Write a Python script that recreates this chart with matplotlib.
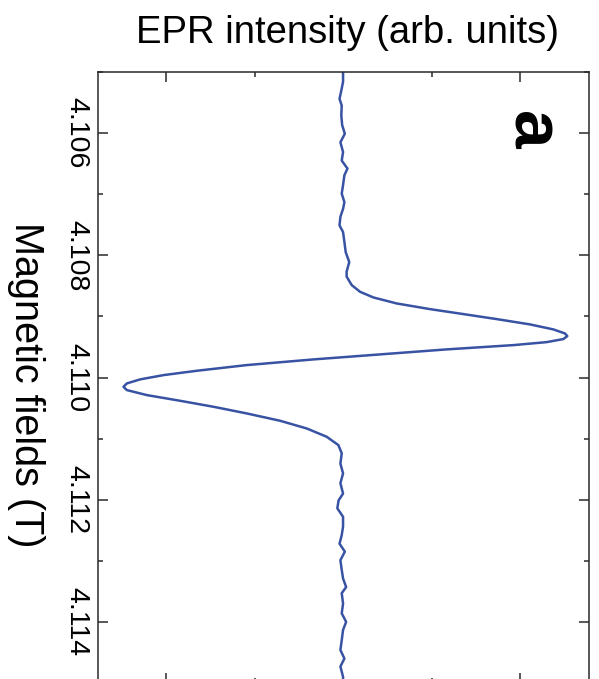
import matplotlib
matplotlib.use("Agg")
import matplotlib.pyplot as plt
from matplotlib.ticker import MultipleLocator, FixedLocator

plt.rcParams['font.family'] = ['Liberation Sans', 'DejaVu Sans']

# Magnetic field (T) and EPR intensity (arb. units)
field = [4.10500, 4.10516, 4.10527, 4.10544, 4.10555, 4.10571, 4.10587, 4.10601,
         4.10615, 4.10631, 4.10645, 4.10658, 4.10669, 4.10685, 4.10699, 4.10713,
         4.10724, 4.10737, 4.10751, 4.10762, 4.10778, 4.10795, 4.10811, 4.10827,
         4.108351, 4.108488, 4.108597, 4.108690, 4.108788, 4.108881, 4.108962,
         4.109044, 4.109131, 4.109213, 4.109279, 4.109322, 4.109371, 4.109421,
         4.109470, 4.109540, 4.109622, 4.109704, 4.109797, 4.109890, 4.109961,
         4.110031, 4.110097, 4.110152, 4.110206, 4.110288, 4.110381, 4.110479,
         4.110588, 4.110708, 4.110834, 4.110970, 4.111106,
         4.11124, 4.11141, 4.11157, 4.11173, 4.11190, 4.11201, 4.11214, 4.11228,
         4.11244, 4.11258, 4.11272, 4.11285, 4.11299, 4.11315, 4.11329, 4.11343,
         4.11353, 4.11370, 4.11386, 4.11400, 4.11413, 4.11430, 4.11446, 4.11460,
         4.11473, 4.11490, 4.11500]
intensity = [0.00, 0.00, -0.015, -0.04, -0.015, -0.02, -0.01, 0.02,
             -0.03, 0.00, -0.015, 0.05, 0.015, 0.00, -0.015, 0.015,
             0.00, -0.03, -0.04, 0.00, 0.015, 0.03, 0.07, 0.04,
             0.041, 0.098, 0.192, 0.343, 0.606, 0.983, 1.360,
             1.736, 2.113, 2.377, 2.508, 2.535, 2.490, 2.301,
             1.925, 1.171, 0.418, -0.335, -1.089, -1.654, -2.030,
             -2.294, -2.444, -2.482, -2.444, -2.218, -1.842, -1.465,
             -1.089, -0.712, -0.411, -0.185, -0.053,
             -0.015, -0.03, 0.00, -0.03, 0.00, -0.05, -0.065, 0.00,
             0.00, -0.015, -0.04, 0.02, -0.03, -0.015, 0.00, 0.035,
             -0.015, 0.00, -0.015, 0.035, 0.00, -0.015, -0.03, 0.015,
             -0.03, 0.00, 0.00]

field_ticks = [4.106, 4.108, 4.110, 4.112, 4.114]
field_ticklabels = ["4.106", "4.108", "4.110", "4.112", "4.114"]

W, H = 599, 679
fig = plt.figure(figsize=(W / 100, H / 100), dpi=100)
ax = fig.add_axes([98 / W, (H - 683) / H, 491 / W, 611 / H])

ax.plot(intensity, field, color='#3953a4', lw=1.8, solid_joinstyle='round',
        solid_capstyle='round')

ax.set_ylim(4.115, 4.105)
ax.set_xlim(-2.77, 2.78)

ax.yaxis.set_major_locator(FixedLocator(field_ticks))
ax.yaxis.set_minor_locator(MultipleLocator(0.001))
ax.set_yticklabels(field_ticklabels, rotation=-90, fontsize=20.5)
ax.xaxis.set_major_locator(FixedLocator([-2, 2]))
ax.xaxis.set_minor_locator(FixedLocator([-1, 1]))
ax.set_xticklabels([])

ax.tick_params(which='both', direction='in', top=True, bottom=True,
               left=True, right=True, color='#2a2a2a', width=1.1)
ax.tick_params(which='major', length=7.5)
ax.tick_params(which='minor', length=3.5)
ax.tick_params(axis='y', which='major', pad=6)
for s in ax.spines.values():
    s.set_linewidth(1.1)
    s.set_color('#2a2a2a')

for lab in ax.get_yticklabels():
    lab.set_va('center')

fig.text(348 / W, 1 - 43 / H, "EPR intensity (arb. units)", fontsize=27.5,
         ha='center', va='baseline')
fig.text(26 / W, 1 - 385 / H, "Magnetic fields (T)", fontsize=28.5,
         rotation=-90, ha='center', va='center')
fig.text(531 / W, 1 - 130 / H, "a", fontsize=50, fontweight='bold',
         rotation=-90, ha='center', va='center')

fig.savefig("out.png", dpi=100)
